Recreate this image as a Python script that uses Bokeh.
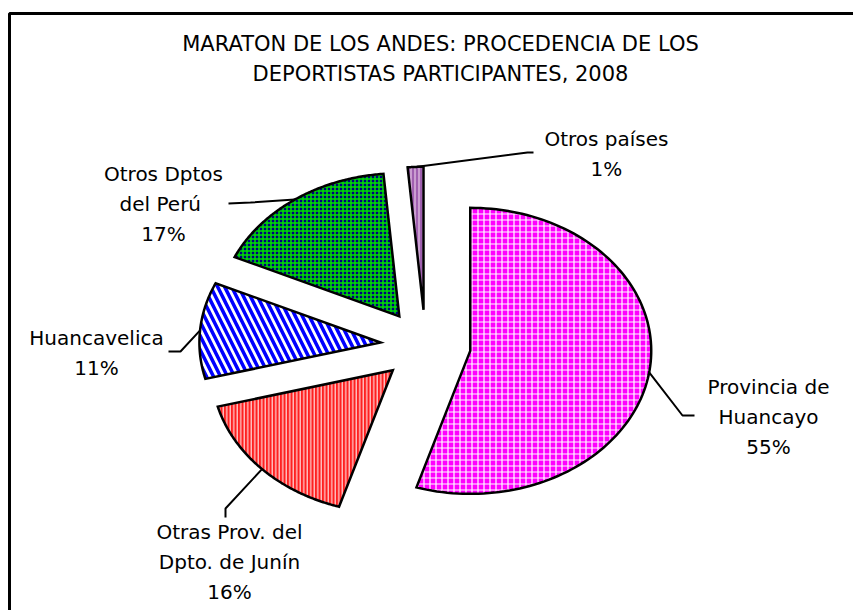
import numpy as np
from bokeh.plotting import figure
from bokeh.models import Range1d, ColumnDataSource, BoxAnnotation
from bokeh.core.properties import value
from bokeh.embed import file_html
from bokeh.resources import INLINE

# ---------------- data ----------------
title_lines = ["MARATON DE LOS ANDES: PROCEDENCIA DE LOS",
               "DEPORTISTAS PARTICIPANTES, 2008"]
categories = ["Provincia de\nHuancayo",
              "Otras Prov. del\nDpto. de Junín",
              "Huancavelica",
              "Otros Dptos\ndel  Perú",
              "Otros países"]
shares = [54.8, 16.1, 10.9, 16.8, 1.4]   # percent of participants

# ---------------- styles ----------------
fill_colors = ["#FF00FF", "#FF2020", "#FFFFFF", "#000080", "#A060B0"]
hatch_patterns = ["+", "|", "\\", "+", "|"]
hatch_colors = ["#FFFFFF", "#FFFFFF", "#0000FF", "#00E000", "#E8C8E8"]
hatch_scales = [6, 3.5, 14, 4, 4]
hatch_weights = [1.2, 1.0, 3.5, 1.5, 1.2]

# label placement (page pixels): text block centre, leader elbow, leader end
label_x = [768, 229, 96, 163, 606]
label_y = [416, 561, 352, 203, 153]
elbow = [(682, 415), (225, 508), (180, 351), (250, 202), (527, 152)]
lead_end = [(694, 415), (225, 517), (168, 351), (228, 203), (533, 152)]

FONT = "DejaVu Sans"

# ---------------- figure ----------------
W, H = 853, 610
p = figure(width=W, height=H, x_range=Range1d(0, W), y_range=Range1d(H, 0),
           output_backend="svg", toolbar_location=None,
           x_axis_location=None, y_axis_location=None, min_border=0)
p.grid.visible = False
p.outline_line_color = None
p.background_fill_color = "white"
p.border_fill_color = "white"

# chart border (only top and left edges fall inside the picture)
p.add_layout(BoxAnnotation(left=9, top=13, right=W + 20, bottom=H + 20,
                           fill_color=None, fill_alpha=0, line_color="black",
                           line_alpha=1.0, line_width=3))

# exploded elliptical pie
cx, cy, rx, ry, k = 425.0, 345.0, 181.0, 143.0, 0.25
sh = np.array(shares, dtype=float)
ends = np.cumsum(sh) / sh.sum() * 360.0
starts = ends - sh / sh.sum() * 360.0

xs, ys, sx, sy = [], [], [], []
for s, e in zip(starts, ends):
    mid = np.radians((s + e) / 2)
    ax = cx + k * rx * np.sin(mid)
    ay = cy - k * ry * np.cos(mid)
    t = np.radians(np.linspace(s, e, 120))
    xs.append(np.concatenate([[ax], ax + rx * np.sin(t), [ax]]))
    ys.append(np.concatenate([[ay], ay - ry * np.cos(t), [ay]]))
    sx.append(ax + rx * np.sin(mid))
    sy.append(ay - ry * np.cos(mid))

src = ColumnDataSource(dict(xs=xs, ys=ys, fill=fill_colors, hp=hatch_patterns,
                            hc=hatch_colors, hs=hatch_scales, hw=hatch_weights))
p.patches("xs", "ys", source=src, fill_color="fill", hatch_pattern="hp",
          hatch_color="hc", hatch_scale="hs", hatch_weight="hw",
          line_color="black", line_width=2.5, line_join="miter")

# leader lines
lx = [[sx[i], elbow[i][0], lead_end[i][0]] for i in range(len(categories))]
ly = [[sy[i], elbow[i][1], lead_end[i][1]] for i in range(len(categories))]
p.multi_line(lx, ly, line_color="black", line_width=2)

# labels
labels = [f"{c}\n{round(v)}%" for c, v in zip(categories, shares)]
p.text(x=label_x, y=label_y, text=labels, text_align="center", text_baseline="middle",
       text_font=value(FONT), text_font_size="20px", text_color="black",
       text_line_height=1.25)

# title
p.text(x=[440], y=[58.5], text=["\n".join(title_lines)], text_align="center",
       text_baseline="middle", text_font=value(FONT), text_font_size="21px",
       text_color="black", text_line_height=1.28)

open("out.html", "w").write(file_html(p, INLINE))
